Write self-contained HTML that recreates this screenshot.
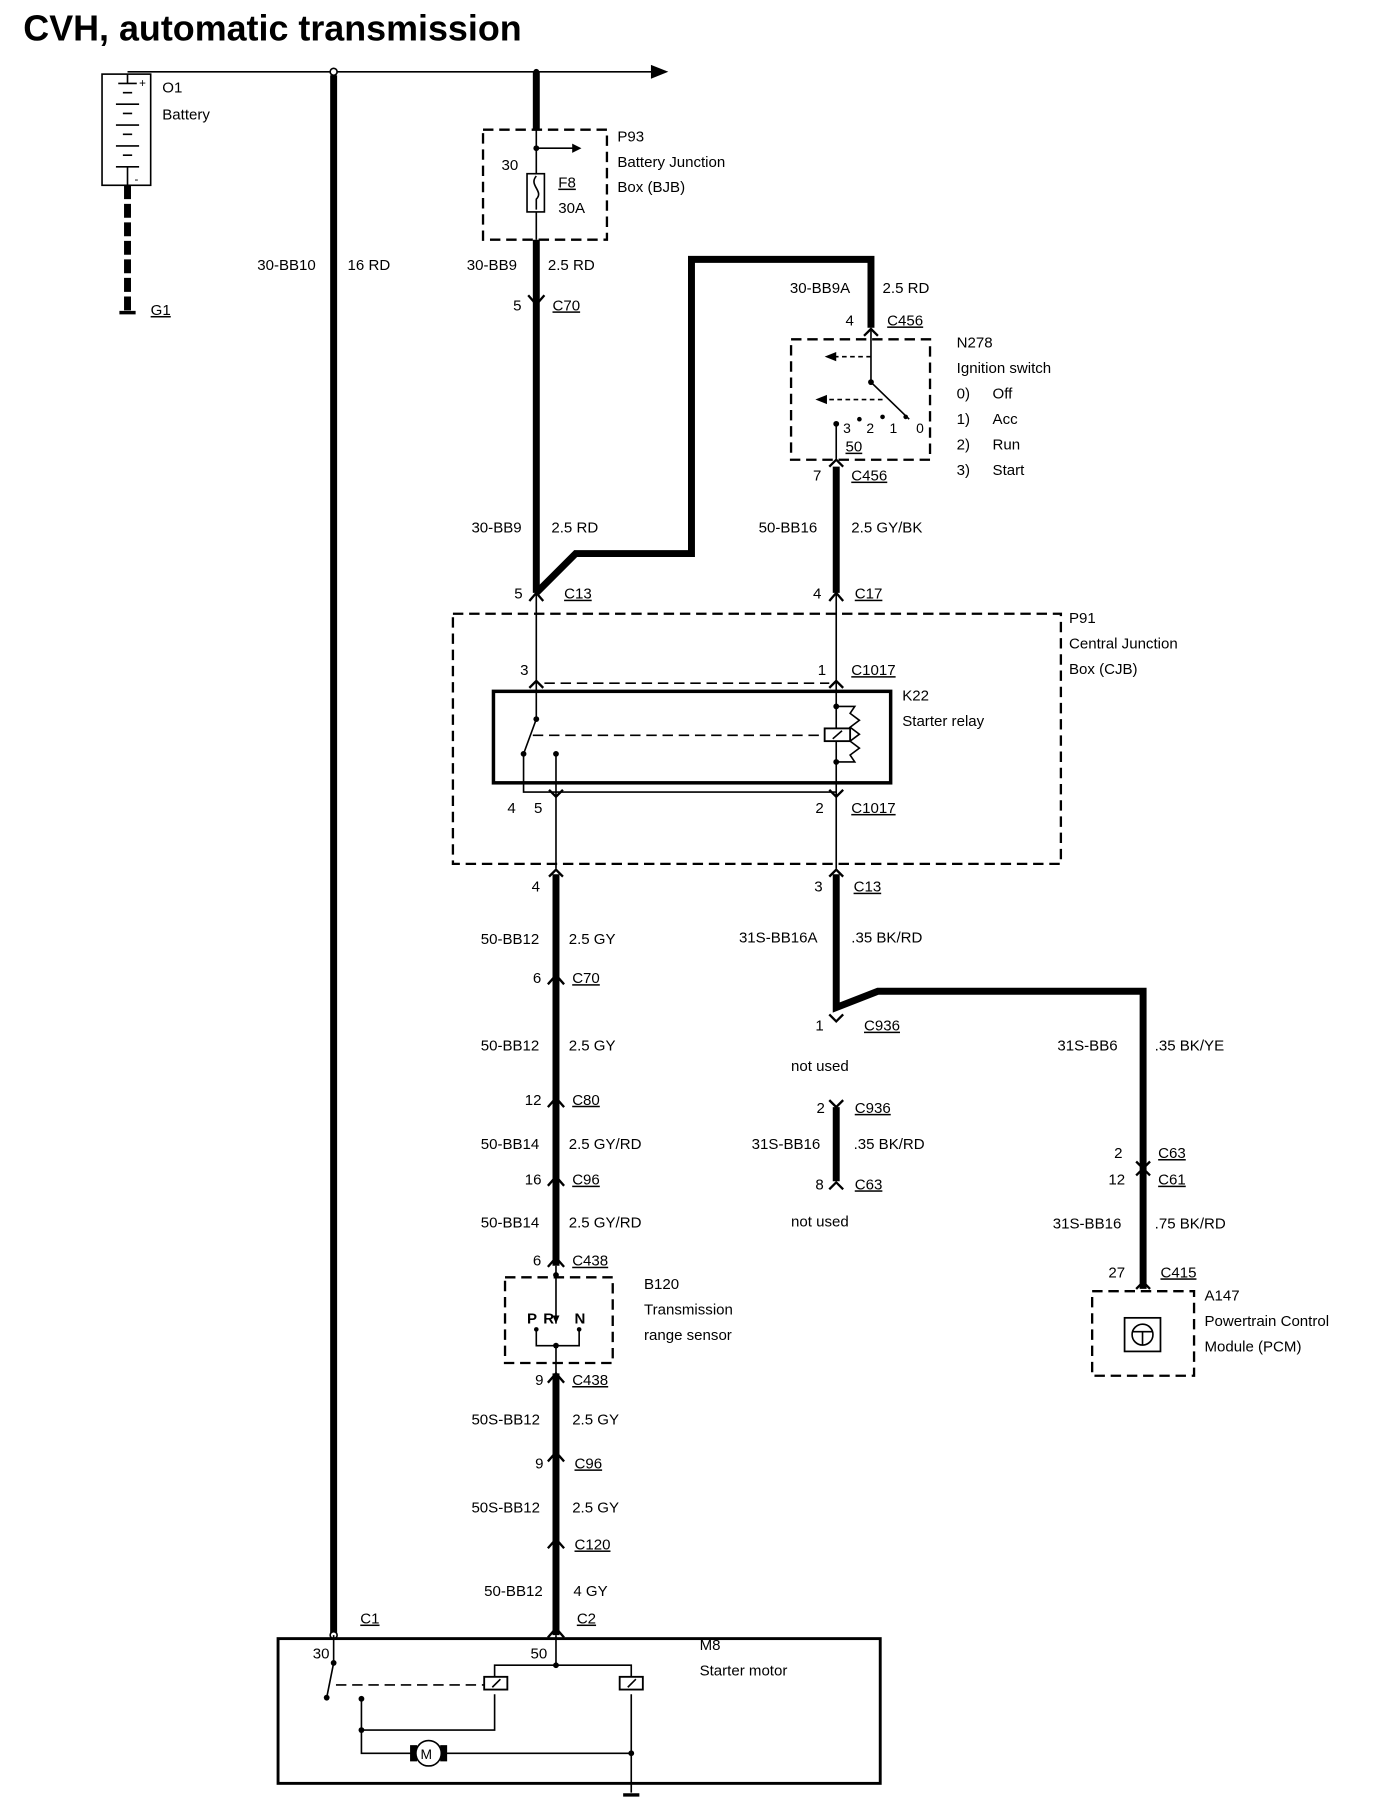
<!DOCTYPE html>
<html><head><meta charset="utf-8"><style>
html,body{margin:0;padding:0;background:#fff}
svg{display:block}
text{font-family:"Liberation Sans",Arial,sans-serif;font-size:13px;fill:#000}
.u{text-decoration:underline}
.t{stroke:#000;fill:none;stroke-width:1.4}
.k{stroke:#000;fill:none;stroke-width:6}
.d{stroke:#000;fill:none;stroke-width:2;stroke-dasharray:9 5}
.c{stroke:#000;fill:none;stroke-width:2}
</style></head><body>
<svg width="1376" height="1810" viewBox="0 0 1188 1563" xmlns="http://www.w3.org/2000/svg">
<text x="20" y="35" style="font-size:31px;font-weight:bold">CVH, automatic transmission</text>
<path class="t" d="M110 62 H566"/>
<path d="M562 56 L577 62 L562 68 Z" fill="#000"/>
<circle cx="288" cy="62" r="3" fill="#fff" stroke="#000" stroke-width="1.4"/>
<circle cx="463" cy="62" r="2.5" fill="#000"/>
<rect x="88" y="64" width="42" height="96" class="t"/>
<path class="t" d="M110 64 V72 M102 72 H118 M106 80 H114 M100 90 H120 M106 98 H114 M100 108 H120 M106 116 H114 M100 126 H120 M106 134 H114 M100 144 H120 M110 144 V160"/>
<text x="120" y="75" style="font-size:10px">+</text><text x="116" y="158" style="font-size:10px">-</text>
<path d="M110 160 V268" stroke="#000" stroke-width="6" stroke-dasharray="12 4"/>
<path d="M103 270 H117" stroke="#000" stroke-width="3"/>
<text x="140" y="80">O1</text><text x="140" y="103">Battery</text>
<text x="130" y="272" class="u">G1</text>
<path class="k" d="M288 65 V1412"/>
<text x="222" y="233">30-BB10</text><text x="300" y="233">16 RD</text>
<circle cx="288" cy="1412" r="3" fill="#fff" stroke="#000" stroke-width="1.4"/>
<path class="k" d="M463 62 V112"/>
<rect x="417" y="112" width="107" height="95" class="d"/>
<path class="t" d="M463 112 V150 M463 183 V207 M463 128 H496"/>
<path d="M494 124 L502 128 L494 132 Z" fill="#000"/>
<circle cx="463" cy="128" r="2.5" fill="#000"/>
<rect x="455" y="150" width="15" height="33" class="t"/>
<path class="t" d="M463 152 C456 160 470 165 463 172 V181"/>
<text x="433" y="147">30</text>
<text x="482" y="162" class="u">F8</text><text x="482" y="184">30A</text>
<text x="533" y="122">P93</text><text x="533" y="144">Battery Junction</text><text x="533" y="166">Box (BJB)</text>
<path class="k" d="M463 207 V512"/>
<text x="403" y="233">30-BB9</text><text x="473" y="233">2.5 RD</text>
<path class="c" d="M456 255 L463 263 L470 255"/>
<text x="443" y="268">5</text><text x="477" y="268" class="u">C70</text>
<text x="407" y="460">30-BB9</text><text x="476" y="460">2.5 RD</text>
<path class="k" d="M463 512 L497 478 H597 V224 H752 V283"/>
<text x="682" y="253">30-BB9A</text><text x="762" y="253">2.5 RD</text>
<path class="c" d="M746 290 L752 284 L758 290"/>
<text x="730" y="281">4</text><text x="766" y="281" class="u">C456</text>
<rect x="683" y="293" width="120" height="104" class="d"/>
<path class="t" d="M752 284 V330 L785 362"/>
<circle cx="752" cy="330" r="2.5" fill="#000"/>
<path class="t" d="M752 308 H720" stroke-dasharray="4 3"/>
<path d="M722 304 L712 308 L722 312 Z" fill="#000"/>
<path class="t" d="M762 345 H715" stroke-dasharray="4 3"/>
<path d="M714 341 L704 345 L714 349 Z" fill="#000"/>
<circle cx="742" cy="362" r="2" fill="#000"/><circle cx="762" cy="360" r="2" fill="#000"/><circle cx="782" cy="360" r="2" fill="#000"/>
<text x="728" y="374" style="font-size:12px">3</text><text x="748" y="374" style="font-size:12px">2</text><text x="768" y="374" style="font-size:12px">1</text><text x="791" y="374" style="font-size:12px">0</text>
<path class="t" d="M722 366 V397"/>
<circle cx="722" cy="366" r="2.5" fill="#000"/>
<text x="730" y="390" class="u">50</text>
<text x="826" y="300">N278</text><text x="826" y="322">Ignition switch</text>
<text x="826" y="344">0)</text><text x="857" y="344">Off</text>
<text x="826" y="366">1)</text><text x="857" y="366">Acc</text>
<text x="826" y="388">2)</text><text x="857" y="388">Run</text>
<text x="826" y="410">3)</text><text x="857" y="410">Start</text>
<path class="c" d="M716 403 L722 397 L728 403"/>
<text x="702" y="415">7</text><text x="735" y="415" class="u">C456</text>
<path class="k" d="M722 403 V512"/>
<text x="655" y="460">50-BB16</text><text x="735" y="460">2.5 GY/BK</text>
<path class="c" d="M716 519 L722 512 L728 519 M457 519 L463 512 L469 519"/>
<text x="444" y="517">5</text><text x="487" y="517" class="u">C13</text>
<text x="702" y="517">4</text><text x="738" y="517" class="u">C17</text>
<rect x="391" y="530" width="525" height="216" class="d"/>
<text x="923" y="538">P91</text><text x="923" y="560">Central Junction</text><text x="923" y="582">Box (CJB)</text>
<path class="t" d="M463 512 V596 M722 512 V596"/>
<path class="t" d="M470 590 H716" stroke-dasharray="9 5"/>
<path class="c" d="M457 594 L463 588 L469 594 M716 594 L722 588 L728 594"/>
<text x="449" y="583">3</text><text x="706" y="583">1</text><text x="735" y="583" class="u">C1017</text>
<rect x="426" y="597" width="343" height="79" stroke="#000" stroke-width="3" fill="none"/>
<text x="779" y="605">K22</text><text x="779" y="627">Starter relay</text>
<path class="t" d="M463 596 V621 L452 651 M452 651 V684 H722 M480 651 V750"/>
<circle cx="463" cy="621" r="2.5" fill="#000"/><circle cx="452" cy="651" r="2.5" fill="#000"/><circle cx="480" cy="651" r="2.5" fill="#000"/>
<path class="t" d="M460 635 H713" stroke-dasharray="9 5"/>
<path class="t" d="M722 596 V750 M722 610 H738 L734 616 L742 622 L734 628 L742 634 L734 640 L742 646 L734 652 L738 658 H722"/>
<circle cx="722" cy="610" r="2.5" fill="#000"/><circle cx="722" cy="658" r="2.5" fill="#000"/>
<rect x="712" y="629" width="22" height="11" fill="#fff" stroke="#000" stroke-width="1.6"/>
<path class="t" d="M719 638 L727 631"/>
<path class="c" d="M474 682 L480 688 L486 682 M716 682 L722 688 L728 682"/>
<text x="438" y="702">4</text><text x="461" y="702">5</text><text x="704" y="702">2</text><text x="735" y="702" class="u">C1017</text>
<path class="c" d="M474 757 L480 751 L486 757 M716 757 L722 751 L728 757"/>
<path class="k" d="M480 755 V1093 M480 1186 V1412"/>
<path class="c" d="M473 850 L480 842 L487 850 M473 956 L480 948 L487 956 M473 1024 L480 1016 L487 1024 M473 1094 L480 1086 L487 1094 M473 1194 L480 1186 L487 1194 M473 1262 L480 1254 L487 1262 M473 1337 L480 1329 L487 1337 M473 1414 L480 1406 L487 1414"/>
<text x="459" y="770">4</text>
<text x="415" y="815">50-BB12</text><text x="491" y="815">2.5 GY</text>
<text x="460" y="849">6</text><text x="494" y="849" class="u">C70</text>
<text x="415" y="907">50-BB12</text><text x="491" y="907">2.5 GY</text>
<text x="453" y="954">12</text><text x="494" y="954" class="u">C80</text>
<text x="415" y="992">50-BB14</text><text x="491" y="992">2.5 GY/RD</text>
<text x="453" y="1023">16</text><text x="494" y="1023" class="u">C96</text>
<text x="415" y="1060">50-BB14</text><text x="491" y="1060">2.5 GY/RD</text>
<text x="460" y="1093">6</text><text x="494" y="1093" class="u">C438</text>
<rect x="436" y="1103" width="93" height="74" class="d"/>
<path class="t" d="M480 1093 V1143 M480 1162 V1186 M463 1148 V1162 H500 V1148"/>
<circle cx="480" cy="1101" r="2.5" fill="#000"/><circle cx="480" cy="1162" r="2.5" fill="#000"/><circle cx="463" cy="1148" r="2" fill="#000"/><circle cx="500" cy="1148" r="2" fill="#000"/>
<path d="M477 1136 L480 1143 L483 1136 Z" fill="#000"/>
<text x="455" y="1143" style="font-weight:bold">P</text><text x="469" y="1143" style="font-weight:bold">R</text><text x="496" y="1143" style="font-weight:bold">N</text>
<text x="556" y="1113">B120</text><text x="556" y="1135">Transmission</text><text x="556" y="1157">range sensor</text>
<text x="462" y="1196">9</text><text x="494" y="1196" class="u">C438</text>
<text x="407" y="1230">50S-BB12</text><text x="494" y="1230">2.5 GY</text>
<text x="462" y="1268">9</text><text x="496" y="1268" class="u">C96</text>
<text x="407" y="1306">50S-BB12</text><text x="494" y="1306">2.5 GY</text>
<text x="496" y="1338" class="u">C120</text>
<text x="418" y="1378">50-BB12</text><text x="495" y="1378">4 GY</text>
<text x="311" y="1402" class="u">C1</text><text x="498" y="1402" class="u">C2</text>
<rect x="240" y="1415" width="520" height="125" stroke="#000" stroke-width="2.5" fill="none"/>
<text x="604" y="1425">M8</text><text x="604" y="1447">Starter motor</text>
<text x="270" y="1432">30</text><text x="458" y="1432">50</text>
<path class="t" d="M288 1412 V1436 L282 1466 M480 1412 V1438 M427 1448 V1438 H545 V1448 M545 1463 V1548 M312 1467 V1514 H355 M384 1514 H545 M312 1494 H427 V1463"/>
<circle cx="288" cy="1436" r="2.5" fill="#000"/><circle cx="282" cy="1466" r="2.5" fill="#000"/><circle cx="312" cy="1467" r="2.5" fill="#000"/><circle cx="312" cy="1494" r="2.5" fill="#000"/><circle cx="480" cy="1438" r="2.5" fill="#000"/><circle cx="545" cy="1514" r="2.5" fill="#000"/>
<path class="t" d="M290 1455 H418" stroke-dasharray="9 5"/>
<rect x="418" y="1448" width="20" height="11" fill="#fff" stroke="#000" stroke-width="1.6"/><path class="t" d="M425 1457 L432 1450"/>
<rect x="535" y="1448" width="20" height="11" fill="#fff" stroke="#000" stroke-width="1.6"/><path class="t" d="M542 1457 L549 1450"/>
<rect x="354" y="1507" width="6" height="14" fill="#000"/><rect x="380" y="1507" width="6" height="14" fill="#000"/>
<circle cx="370" cy="1514" r="11" fill="#fff" stroke="#000" stroke-width="1.4"/>
<text x="363" y="1519" style="font-size:12px">M</text>
<path d="M538 1550 H552" stroke="#000" stroke-width="3"/>
<path class="k" d="M722 755 V870 L758 856 H987 V1113"/>
<text x="703" y="770">3</text><text x="737" y="770" class="u">C13</text>
<text x="638" y="814">31S-BB16A</text><text x="735" y="814">.35 BK/RD</text>
<path class="c" d="M716 876 L722 882 L728 876"/>
<text x="704" y="890">1</text><text x="746" y="890" class="u">C936</text>
<text x="683" y="925">not used</text>
<text x="913" y="907">31S-BB6</text><text x="997" y="907">.35 BK/YE</text>
<path class="c" d="M716 950 L722 956 L728 950"/>
<path class="k" d="M722 956 V1020"/>
<path class="c" d="M716 1027 L722 1021 L728 1027"/>
<text x="705" y="961">2</text><text x="738" y="961" class="u">C936</text>
<text x="649" y="992">31S-BB16</text><text x="737" y="992">.35 BK/RD</text>
<text x="704" y="1027">8</text><text x="738" y="1027" class="u">C63</text>
<text x="683" y="1059">not used</text>
<path class="c" d="M981 1003 L987 1009 L993 1003 M981 1015 L987 1009 L993 1015"/>
<text x="962" y="1000">2</text><text x="1000" y="1000" class="u">C63</text>
<text x="957" y="1023">12</text><text x="1000" y="1023" class="u">C61</text>
<text x="909" y="1061">31S-BB16</text><text x="997" y="1061">.75 BK/RD</text>
<path class="c" d="M981 1113 L987 1107 L993 1113"/>
<text x="957" y="1103">27</text><text x="1002" y="1103" class="u">C415</text>
<rect x="943" y="1115" width="88" height="73" class="d"/>
<rect x="971" y="1138" width="31" height="29" fill="none" stroke="#000" stroke-width="1.5"/>
<circle cx="986.5" cy="1152.5" r="9" fill="none" stroke="#000" stroke-width="1.4"/>
<path class="t" d="M978 1150 H995 M986.5 1150 V1161"/>
<text x="1040" y="1123">A147</text><text x="1040" y="1145">Powertrain Control</text><text x="1040" y="1167">Module (PCM)</text>
</svg>
</body></html>
